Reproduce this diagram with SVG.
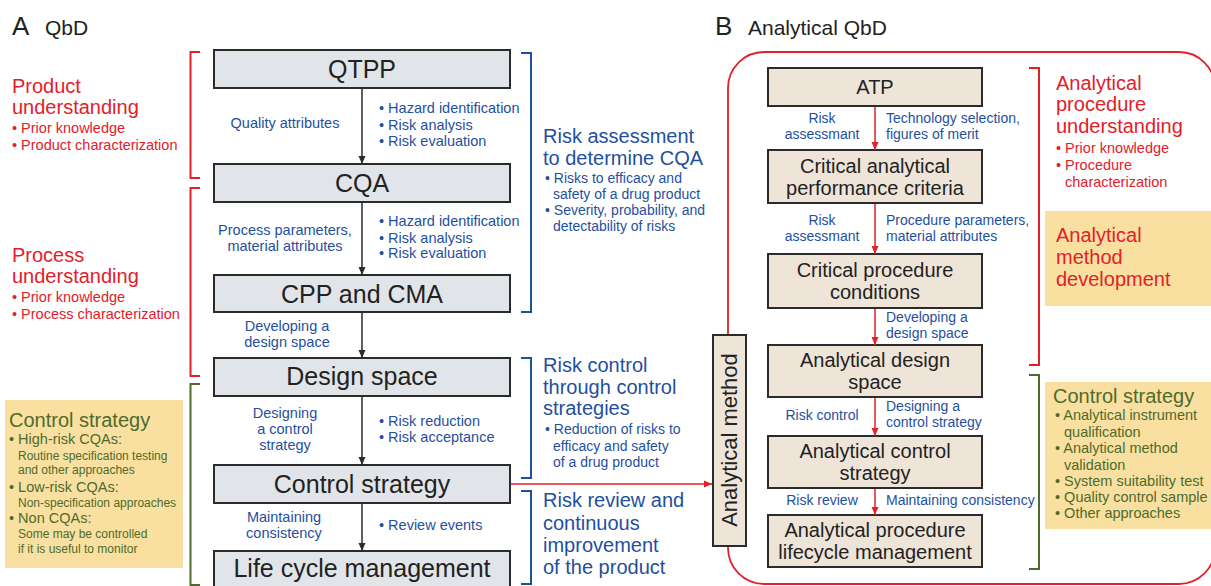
<svg xmlns="http://www.w3.org/2000/svg" width="1211" height="586" viewBox="0 0 1211 586">
<defs>
<marker id="aDark" markerUnits="userSpaceOnUse" markerWidth="8" markerHeight="8" refX="8" refY="4" orient="auto"><path d="M0,0.5 L8,4 L0,7.5 z" fill="#2b2b2b"/></marker>
<marker id="aRed" markerUnits="userSpaceOnUse" markerWidth="8" markerHeight="8" refX="8" refY="4" orient="auto"><path d="M0,0.5 L8,4 L0,7.5 z" fill="#e3202a"/></marker>
<style>
text{font-family:"Liberation Sans",Arial,Helvetica,sans-serif;}
.hd{font-size:26px;fill:#222;}
.hs{font-size:21px;fill:#222;}
.gbox{fill:#e1e5e9;stroke:#2b2b2b;stroke-width:2;}
.bbox{fill:#efe4d8;stroke:#2b2b2b;stroke-width:2;}
.gl{font-size:25px;fill:#222;text-anchor:middle;}
.bl{font-size:20px;fill:#222;text-anchor:middle;}
.blue{fill:#1f4f9f;font-size:14.5px;}
.bluer{fill:#1f4f9f;font-size:14px;}
.bigb{fill:#1f4f9f;font-size:20px;}
.bigr{fill:#e3202a;font-size:20px;}
.smr{fill:#e3202a;font-size:14.5px;}
.bigg{fill:#4e6b2c;font-size:20px;}
.smg{fill:#4e6b2c;font-size:14.5px;}
.xsg{fill:#4e6b2c;font-size:12px;}
.mid{text-anchor:middle;}
.brR{fill:none;stroke:#e3202a;stroke-width:2;}
.brB{fill:none;stroke:#1f4f9f;stroke-width:2;}
.brG{fill:none;stroke:#4e6b2c;stroke-width:2;}
.yel{fill:#f9e0a0;}
.cd{stroke:#2b2b2b;stroke-width:1.5;fill:none;marker-end:url(#aDark);}
.cr{stroke:#e3202a;stroke-width:1.5;fill:none;marker-end:url(#aRed);}
</style>
</defs>
<rect width="1211" height="586" fill="#ffffff"/>

<!-- Panel titles -->
<text class="hd" x="12" y="35">A</text>
<text class="hs" x="45" y="35">QbD</text>
<text class="hd" x="715" y="35">B</text>
<text class="hs" x="748" y="35">Analytical QbD</text>

<!-- Big red rounded frame of panel B -->
<rect x="728" y="52" width="487" height="532" rx="36" ry="36" fill="none" stroke="#e3202a" stroke-width="1.8"/>

<!-- Brackets -->
<g id="brackets">
<path class="brR" d="M200,52 H190.5 V178 H200"/>
<path class="brR" d="M200,188 H190.5 V376 H200"/>
<path class="brG" d="M200,384 H190.5 V585 H200"/>
<path class="brB" d="M521,53 H531 V312 H521"/>
<path class="brB" d="M521,358 H531 V478 H521"/>
<path class="brB" d="M521,491 H531 V584 H521"/>
<path class="brR" d="M1029,68 H1039 V365 H1029"/>
<path class="brG" d="M1029,375 H1039 V569 H1029"/>
</g>

<!-- Left side texts -->
<g id="product-understanding">
<text class="bigr" x="12" y="93">Product</text>
<text class="bigr" x="12" y="114">understanding</text>
<text class="smr" x="12" y="133">• Prior knowledge</text>
<text class="smr" x="12" y="150">• Product characterization</text>
</g>
<g id="process-understanding">
<text class="bigr" x="12" y="262">Process</text>
<text class="bigr" x="12" y="283">understanding</text>
<text class="smr" x="12" y="302">• Prior knowledge</text>
<text class="smr" x="12" y="319">• Process characterization</text>
</g>
<g id="control-strategy-note">
<rect class="yel" x="5" y="400" width="178" height="168"/>
<text class="bigg" x="9" y="427">Control strategy</text>
<text class="smg" x="9" y="444">• High-risk CQAs:</text>
<text class="xsg" x="18" y="460">Routine specification testing</text>
<text class="xsg" x="18" y="474">and other approaches</text>
<text class="smg" x="9" y="492">• Low-risk CQAs:</text>
<text class="xsg" x="18" y="507">Non-specification approaches</text>
<text class="smg" x="9" y="523">• Non CQAs:</text>
<text class="xsg" x="18" y="538">Some may be controlled</text>
<text class="xsg" x="18" y="553">if it is useful to monitor</text>
</g>

<!-- Left boxes -->
<g id="qtpp"><rect class="gbox" x="214" y="50" width="296" height="38"/><text class="gl" x="362" y="78">QTPP</text></g>
<g id="cqa"><rect class="gbox" x="214" y="164" width="296" height="38"/><text class="gl" x="362" y="192">CQA</text></g>
<g id="cpp-cma"><rect class="gbox" x="214" y="275" width="296" height="37"/><text class="gl" x="362" y="303">CPP and CMA</text></g>
<g id="design-space"><rect class="gbox" x="214" y="358" width="296" height="38"/><text class="gl" x="362" y="385">Design space</text></g>
<g id="control-strategy"><rect class="gbox" x="214" y="465" width="296" height="38"/><text class="gl" x="362" y="493">Control strategy</text></g>
<g id="life-cycle"><rect class="gbox" x="214" y="551" width="296" height="40"/><text class="gl" x="362" y="577">Life cycle management</text></g>

<!-- Left connector labels -->
<g id="left-labels">
<text class="blue mid" x="285" y="128">Quality attributes</text>
<text class="blue" x="379" y="113">• Hazard identification</text>
<text class="blue" x="379" y="130">• Risk analysis</text>
<text class="blue" x="379" y="146">• Risk evaluation</text>
<text class="blue mid" x="285" y="235">Process parameters,</text>
<text class="blue mid" x="285" y="251">material attributes</text>
<text class="blue" x="379" y="226">• Hazard identification</text>
<text class="blue" x="379" y="243">• Risk analysis</text>
<text class="blue" x="379" y="258">• Risk evaluation</text>
<text class="blue mid" x="287" y="331">Developing a</text>
<text class="blue mid" x="287" y="347">design space</text>
<text class="blue mid" x="285" y="418">Designing</text>
<text class="blue mid" x="285" y="434">a control</text>
<text class="blue mid" x="285" y="450">strategy</text>
<text class="blue" x="379" y="426">• Risk reduction</text>
<text class="blue" x="379" y="442">• Risk acceptance</text>
<text class="blue mid" x="284" y="522">Maintaining</text>
<text class="blue mid" x="284" y="538">consistency</text>
<text class="blue" x="379" y="530">• Review events</text>
</g>

<!-- Blue bracket texts -->
<g id="risk-assessment">
<text class="bigb" x="543" y="143">Risk assessment</text>
<text class="bigb" x="543" y="165">to determine CQA</text>
<text class="bluer" x="545" y="183">• Risks to efficacy and</text>
<text class="bluer" x="553" y="199">safety of a drug product</text>
<text class="bluer" x="545" y="215">• Severity, probability, and</text>
<text class="bluer" x="553" y="231">detectability of risks</text>
</g>
<g id="risk-control">
<text class="bigb" x="543" y="372">Risk control</text>
<text class="bigb" x="543" y="394">through control</text>
<text class="bigb" x="543" y="415">strategies</text>
<text class="bluer" x="545" y="434">• Reduction of risks to</text>
<text class="bluer" x="553" y="451">efficacy and safety</text>
<text class="bluer" x="553" y="467">of a drug product</text>
</g>
<g id="risk-review">
<text class="bigb" x="543" y="507">Risk review and</text>
<text class="bigb" x="543" y="530">continuous</text>
<text class="bigb" x="543" y="552">improvement</text>
<text class="bigb" x="543" y="574">of the product</text>
</g>

<!-- Right side boxes -->
<g id="analytical-method"><rect class="bbox" x="713" y="335" width="33" height="211"/><text class="bl" font-size="22" transform="translate(737,440) rotate(-90)" style="font-size:22px">Analytical method</text></g>
<g id="atp"><rect class="bbox" x="768" y="68" width="214" height="38"/><text class="bl" x="875" y="94">ATP</text></g>
<g id="capc"><rect class="bbox" x="768" y="150" width="214" height="53"/><text class="bl" x="875" y="173">Critical analytical</text><text class="bl" x="875" y="195">performance criteria</text></g>
<g id="cpc"><rect class="bbox" x="768" y="254" width="214" height="54"/><text class="bl" x="875" y="277">Critical procedure</text><text class="bl" x="875" y="299">conditions</text></g>
<g id="ads"><rect class="bbox" x="768" y="345" width="214" height="52"/><text class="bl" x="875" y="367">Analytical design</text><text class="bl" x="875" y="389">space</text></g>
<g id="acs"><rect class="bbox" x="768" y="436" width="214" height="52"/><text class="bl" x="875" y="458">Analytical control</text><text class="bl" x="875" y="480">strategy</text></g>
<g id="aplm"><rect class="bbox" x="768" y="515" width="214" height="52"/><text class="bl" x="875" y="537">Analytical procedure</text><text class="bl" x="875" y="559">lifecycle management</text></g>

<!-- Right connector labels -->
<g id="right-labels">
<text class="bluer mid" x="822" y="123">Risk</text>
<text class="bluer mid" x="822" y="139">assessmant</text>
<text class="bluer" x="886" y="123">Technology selection,</text>
<text class="bluer" x="886" y="139">figures of merit</text>
<text class="bluer mid" x="822" y="225">Risk</text>
<text class="bluer mid" x="822" y="241">assessmant</text>
<text class="bluer" x="886" y="225">Procedure parameters,</text>
<text class="bluer" x="886" y="241">material attributes</text>
<text class="bluer" x="886" y="322">Developing a</text>
<text class="bluer" x="886" y="338">design space</text>
<text class="bluer mid" x="822" y="420">Risk control</text>
<text class="bluer" x="886" y="411">Designing a</text>
<text class="bluer" x="886" y="427">control strategy</text>
<text class="bluer mid" x="822" y="505">Risk review</text>
<text class="bluer" x="886" y="505">Maintaining consistency</text>
</g>

<!-- Right side notes -->
<g id="apu">
<text class="bigr" x="1056" y="90">Analytical</text>
<text class="bigr" x="1056" y="111">procedure</text>
<text class="bigr" x="1056" y="133">understanding</text>
<text class="smr" x="1056" y="153">• Prior knowledge</text>
<text class="smr" x="1056" y="170">• Procedure</text>
<text class="smr" x="1065" y="187">characterization</text>
</g>
<g id="amd">
<rect class="yel" x="1045" y="211" width="170" height="95"/>
<text class="bigr" x="1056" y="242">Analytical</text>
<text class="bigr" x="1056" y="264">method</text>
<text class="bigr" x="1056" y="286">development</text>
</g>
<g id="acs-note">
<rect class="yel" x="1045" y="382" width="170" height="147"/>
<text class="bigg" x="1053" y="403">Control strategy</text>
<text class="smg" x="1055" y="420">• Analytical instrument</text>
<text class="smg" x="1064" y="437">qualification</text>
<text class="smg" x="1055" y="453">• Analytical method</text>
<text class="smg" x="1064" y="470">validation</text>
<text class="smg" x="1055" y="486">• System suitability test</text>
<text class="smg" x="1055" y="502">• Quality control sample</text>
<text class="smg" x="1055" y="518">• Other approaches</text>
</g>

<!-- Connectors -->
<g id="connectors">
<line class="cd" x1="362" y1="89" x2="362" y2="164"/>
<line class="cd" x1="362" y1="203" x2="362" y2="275"/>
<line class="cd" x1="362" y1="313" x2="362" y2="358"/>
<line class="cd" x1="362" y1="397" x2="362" y2="465"/>
<line class="cd" x1="362" y1="504" x2="362" y2="551"/>
<line class="cr" x1="511" y1="484" x2="712" y2="484"/>
<line class="cr" x1="875" y1="107" x2="875" y2="150"/>
<line class="cr" x1="875" y1="204" x2="875" y2="254"/>
<line class="cr" x1="875" y1="309" x2="875" y2="345"/>
<line class="cr" x1="875" y1="398" x2="875" y2="436"/>
<line class="cr" x1="875" y1="489" x2="875" y2="515"/>
</g>
</svg>
